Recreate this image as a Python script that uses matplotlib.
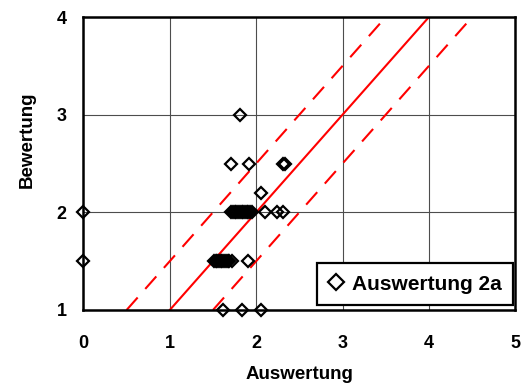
import numpy as np
import matplotlib
matplotlib.use("Agg")
import matplotlib.pyplot as plt

plt.rcParams['font.family'] = ['Liberation Sans', 'DejaVu Sans']
plt.rcParams['font.weight'] = 'bold'

# Messpunkte (Auswertung, Bewertung)
ausw_x = [0.0, 0.0,
          1.81,
          1.71, 1.92, 2.31, 2.33,
          2.05,
          1.71, 1.73, 1.75, 1.77, 1.79, 1.81, 1.83, 1.85, 1.87, 1.89, 1.91, 1.93, 1.95,
          2.10, 2.24, 2.31,
          1.51, 1.53, 1.55, 1.57, 1.59, 1.61, 1.63, 1.65, 1.67, 1.69, 1.72, 1.90,
          1.62, 1.83, 2.05]
bew_y = [2.0, 1.5,
         3.0,
         2.5, 2.5, 2.5, 2.5,
         2.2,
         2.0, 2.0, 2.0, 2.0, 2.0, 2.0, 2.0, 2.0, 2.0, 2.0, 2.0, 2.0, 2.0,
         2.0, 2.0, 2.0,
         1.5, 1.5, 1.5, 1.5, 1.5, 1.5, 1.5, 1.5, 1.5, 1.5, 1.5, 1.5,
         1.0, 1.0, 1.0]

# Referenzlinien
linie_x = [1, 4]
linie_y = [1, 4]
oben_x = [0.5, 3.5]
unten_x = [1.5, 4.5]
band_y = [1, 4]

x_ticks = [0, 1, 2, 3, 4, 5]
y_ticks = [1, 2, 3, 4]

fig = plt.figure(figsize=(5.28, 3.87), dpi=100)
ax = fig.add_axes([0.158, 0.199, 0.818, 0.757])

ax.plot(linie_x, linie_y, color='red', lw=1.5, zorder=2)
ax.plot(oben_x, band_y, color='red', lw=1.5, dashes=(8, 5.5), zorder=2)
ax.plot(unten_x, band_y, color='red', lw=1.5, dashes=(8, 5.5), zorder=2)

ax.plot(ausw_x, bew_y, linestyle='none', marker='D', ms=6.5, mew=1.6,
        mfc='none', mec='black', clip_on=False, zorder=3, label='Auswertung 2a')

ax.set_xlim(0, 5)
ax.set_ylim(1, 4)
ax.set_xticks(x_ticks)
ax.set_yticks(y_ticks)
ax.grid(True, color='0.3', lw=0.8)
ax.set_axisbelow(True)
ax.tick_params(length=0, labelsize=13)
ax.tick_params(axis='x', pad=18)
ax.tick_params(axis='y', pad=12)
for s in ax.spines.values():
    s.set_linewidth(1.8)

ax.set_xlabel('Auswertung', fontsize=13.5, fontweight='bold')
ax.set_ylabel('Bewertung', fontsize=13.5, fontweight='bold')
ax.xaxis.set_label_coords(0.5, -0.19)
ax.yaxis.set_label_coords(-0.111, 0.58)

leg = ax.legend(loc='lower right', bbox_to_anchor=(0.995, 0.017), borderaxespad=0,
                fancybox=False, framealpha=1, edgecolor='black', markerscale=1.25,
                handlelength=0.8, handletextpad=0.35, borderpad=0.55,
                prop={'size': 15, 'weight': 'bold'})
leg.get_frame().set_linewidth(1.6)

fig.savefig('out.png', dpi=100)
